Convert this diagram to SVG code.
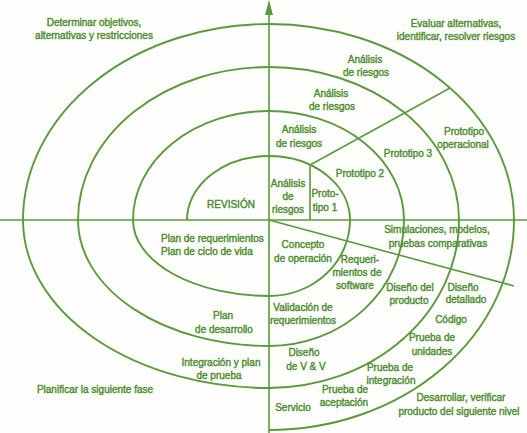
<svg xmlns="http://www.w3.org/2000/svg" width="527" height="433" viewBox="0 0 527 433">
<style>
.t{fill:#4c8c2e;font-family:"Liberation Sans",Arial,sans-serif;font-size:10px;text-anchor:middle;stroke:#4c8c2e;stroke-width:0.4}
.s{text-anchor:start}
.ln{fill:none;stroke:#5a9a3c;stroke-width:1.9}
.ax{fill:none;stroke:#5a9a3c;stroke-width:1.6}
</style>
<rect width="527" height="433" fill="#fefefc"/>
<g id="connectors">
<line class="ax" x1="0" y1="220" x2="527" y2="220"/>
<line class="ax" x1="269" y1="433" x2="269" y2="14"/>
<path d="M265 15 L269 0 L273 15 Z" fill="#5a9a3c"/>
<path class="ln" d="M187 220 A82 64 0 0 1 269 156 A81 64 0 0 1 350 220 A81 76 0 0 1 269 296 A136 76 0 0 1 133 220 A136 109 0 0 1 269 111 A135 109 0 0 1 404 220 A135 126 0 0 1 269 346 A191 126 0 0 1 78 220 A191 153 0 0 1 269 67 A190 153 0 0 1 459 220 A190 168 0 0 1 269 388 A246 168 0 0 1 23 220 A246 196 0 0 1 269 24 A245 196 0 0 1 514 220 A245 210 0 0 1 269 430"/>
<line class="ax" x1="310" y1="165" x2="310" y2="220"/>
<line class="ax" x1="310" y1="165" x2="450" y2="88"/>
<line class="ax" x1="269" y1="220" x2="514" y2="286"/>
</g>
<g id="q1"><text class="t" x="94" y="26">Determinar objetivos,</text><text class="t" x="94" y="39">alternativas y restricciones</text></g>
<g id="q2"><text class="t" x="456" y="27">Evaluar alternativas,</text><text class="t" x="456" y="40">identificar, resolver riesgos</text></g>
<g id="q3"><text class="t" x="95" y="393">Planificar la siguiente fase</text></g>
<g id="q4"><text class="t" x="461" y="401">Desarrollar, verificar</text><text class="t" x="459" y="415">producto del siguiente nivel</text></g>
<g id="revision"><text class="t" x="231" y="208">REVISIÓN</text></g>
<g id="ar4"><text class="t" x="365" y="63">Análisis</text><text class="t" x="366" y="76">de riesgos</text></g>
<g id="ar3"><text class="t" x="331" y="97">Análisis</text><text class="t" x="332" y="110">de riesgos</text></g>
<g id="ar2"><text class="t" x="299" y="133">Análisis</text><text class="t" x="299" y="147">de riesgos</text></g>
<g id="ar1"><text class="t" x="288" y="187">Análisis</text><text class="t" x="288" y="200">de</text><text class="t" x="288" y="213">riesgos</text></g>
<g id="p1"><text class="t" x="325" y="197">Proto-</text><text class="t" x="325" y="211">tipo 1</text></g>
<g id="p2"><text class="t" x="360" y="177">Prototipo 2</text></g>
<g id="p3"><text class="t" x="408" y="157">Prototipo 3</text></g>
<g id="pop"><text class="t" x="464" y="135">Prototipo</text><text class="t" x="463" y="148">operacional</text></g>
<g id="sim"><text class="t" x="437" y="233">Simulaciones, modelos,</text><text class="t" x="438" y="247">pruebas comparativas</text></g>
<g id="plan1"><text class="t s" x="161" y="242">Plan de requerimientos</text><text class="t s" x="161" y="255">Plan de ciclo de vida</text></g>
<g id="plan2"><text class="t" x="223" y="319">Plan</text><text class="t" x="224" y="333">de desarrollo</text></g>
<g id="plan3"><text class="t" x="221" y="366">Integración y plan</text><text class="t" x="219" y="379">de prueba</text></g>
<g id="concepto"><text class="t" x="303" y="248">Concepto</text><text class="t" x="303" y="262">de operación</text></g>
<g id="req"><text class="t" x="360" y="263">Requeri-</text><text class="t" x="357" y="276">mientos de</text><text class="t" x="355" y="289">software</text></g>
<g id="dprod"><text class="t" x="410" y="291">Diseño del</text><text class="t" x="409" y="304">producto</text></g>
<g id="ddet"><text class="t" x="463" y="291">Diseño</text><text class="t" x="466" y="303">detallado</text></g>
<g id="codigo"><text class="t" x="451" y="323">Código</text></g>
<g id="punid"><text class="t" x="432" y="341">Prueba de</text><text class="t" x="432" y="355">unidades</text></g>
<g id="valid"><text class="t" x="303" y="311">Validación de</text><text class="t" x="303" y="324">requerimientos</text></g>
<g id="dvv"><text class="t" x="304" y="356">Diseño</text><text class="t" x="306" y="370">de V &amp; V</text></g>
<g id="pint"><text class="t" x="390" y="371">Prueba de</text><text class="t" x="391" y="384">integración</text></g>
<g id="pacep"><text class="t" x="345" y="393">Prueba de</text><text class="t" x="344" y="406">aceptación</text></g>
<g id="servicio"><text class="t" x="293" y="411">Servicio</text></g>
</svg>
